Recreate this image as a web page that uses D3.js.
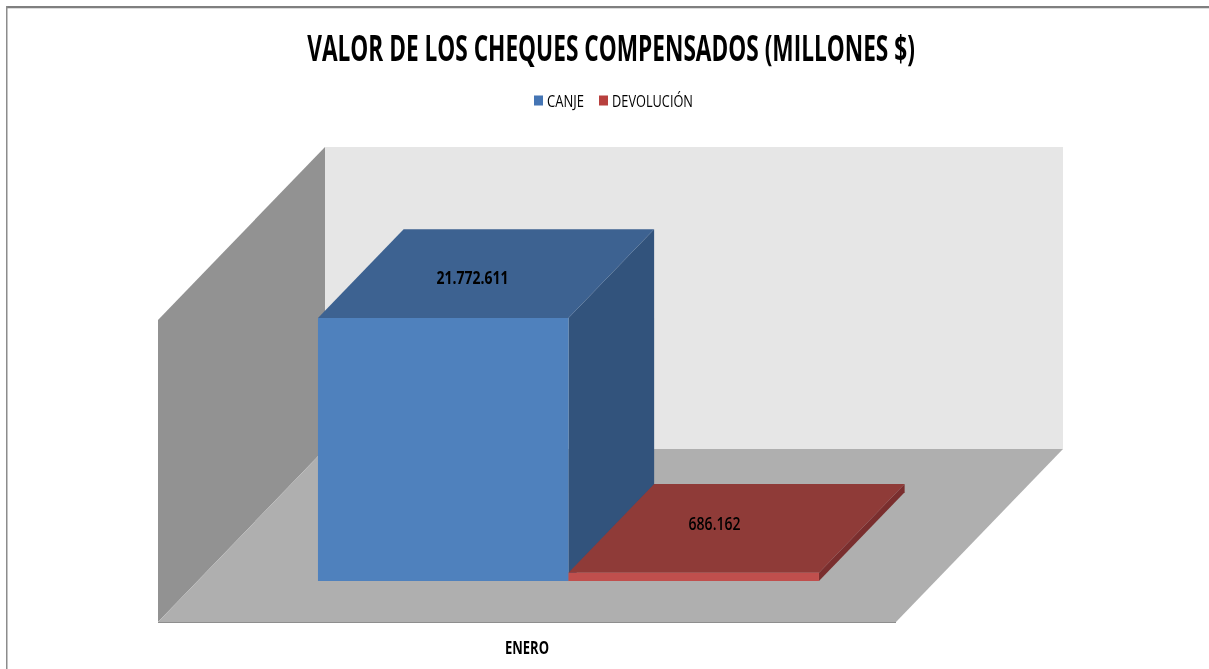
<!DOCTYPE html>
<html>
<head>
<meta charset="utf-8">
<script src="https://cdn.jsdelivr.net/npm/d3@7"></script>
<style>
html,body{margin:0;padding:0;background:#fff;overflow:hidden}
svg{display:block}
text{font-family:"Open Sans","Liberation Sans",sans-serif;fill:#000}
</style>
</head>
<body>
<svg id="c" width="1209" height="669"></svg>
<script>
const categories = ["ENERO"];
const seriesNames = ["CANJE", "DEVOLUCIÓN"];
const seriesValues = [21772611, 686162];
const valueLabels = ["21.772.611", "686.162"];
const titleText = "VALOR DE LOS CHEQUES COMPENSADOS (MILLONES $)";
const frontColors = ["#4f81bd", "#c0504d"];
const topColors = ["#3d6291", "#8f3a39"];
const sideColors = ["#31527b", "#7a2f2e"];
const legendColors = ["#4575b4", "#b8403e"];

const svg = d3.select("#c");
const W = 1209, H = 669;

const defs = svg.append("defs");
defs.append("filter").attr("id","soft").attr("filterUnits","userSpaceOnUse")
  .attr("x",0).attr("y",0).attr("width",W).attr("height",H)
  .append("feGaussianBlur").attr("stdDeviation",0.5);
defs.append("filter").attr("id","edge").append("feGaussianBlur").attr("stdDeviation",0.4);

// frame
svg.append("rect").attr("x",6).attr("y",6).attr("width",W).attr("height",2).attr("fill","#7f7f7f");
svg.append("rect").attr("x",6).attr("y",8).attr("width",W).attr("height",1).attr("fill","#dcdcdc");
svg.append("rect").attr("x",6).attr("y",6).attr("width",1.5).attr("height",H).attr("fill","#8c8c8c");

// oblique projection built from scales
const x = d3.scaleBand().domain(seriesNames).range([158,896]).paddingInner(0).paddingOuter(0.473).align(0.508);
const y = d3.scaleLinear().domain([0,25000000]).range([622,320]);
const depthX = d3.scaleLinear().domain([0,1]).range([0,167]);
const depthY = d3.scaleLinear().domain([0,1]).range([0,-173]);
const P = (px,v,d) => [px + depthX(d), y(v) + depthY(d)];
const poly = (pts,fill,g=svg) => g.append("polygon").attr("points",pts.map(p=>p.join(",")).join(" ")).attr("fill",fill);

const xL = x.range()[0], xR = x.range()[1], vMax = y.domain()[1];
const chart = svg.append("g").attr("filter","url(#edge)");
poly([P(xL,vMax,0),P(xL,vMax,1),P(xL,0,1),P(xL,0,0)],"#929292",chart);
poly([P(xL,vMax,1),P(xR,vMax,1),P(xR,0,1),P(xL,0,1)],"#e6e6e6",chart);
poly([P(xL,0,0),P(xR,0,0),P(xR,0,1),P(xL,0,1)],"#afafaf",chart);
chart.append("line").attr("x1",xL).attr("x2",xR).attr("y1",y(0)+0.5).attr("y2",y(0)+0.5).attr("stroke","#8e8e8e").attr("stroke-width",1);

// text layer: each string is condensed horizontally to the reference's width
const textLayer = svg.append("g").attr("filter","url(#soft)");
function fitText(str, cx, base, size, weight, width, fill){
  const t = textLayer.append("text").attr("text-anchor","middle")
    .attr("font-size",size).attr("font-weight",weight).attr("fill",fill||"#000").text(str);
  const k = width / t.node().getComputedTextLength();
  t.attr("transform",`translate(${cx},${base}) scale(${k},1)`);
  return t;
}

const d0 = 0.237, d1 = 0.75;
const labelShift = [[-13.5,3.5],[-22,-5]];
seriesNames.forEach((s,i)=>{
  const a = x(s), b = a + x.bandwidth(), v = seriesValues[i];
  poly([P(b,0,d0),P(b,0,d1),P(b,v,d1),P(b,v,d0)],sideColors[i],chart);
  poly([P(a,v,d0),P(b,v,d0),P(b,v,d1),P(a,v,d1)],topColors[i],chart);
  poly([P(a,0,d0),P(b,0,d0),P(b,v,d0),P(a,v,d0)],frontColors[i],chart);
  const c = P((a+b)/2,v,(d0+d1)/2);
  fitText(valueLabels[i], c[0]+labelShift[i][0], c[1]+labelShift[i][1]+6.5, 18, i?600:700, i?52:72);
});

// title
fitText(titleText, 611, 61, 36, 700, 608);

// legend
const legendX = [534,599], legendTextW = [37,81];
seriesNames.forEach((s,i)=>{
  svg.append("rect").attr("x",legendX[i]).attr("y",95.5).attr("width",9).attr("height",10).attr("fill",legendColors[i]);
  fitText(s, legendX[i]+13+legendTextW[i]/2, 107, 17, 400, legendTextW[i], "#1a1a1a");
});

// category label
fitText(categories[0], 527, 654, 17, 700, 44);
</script>
</body>
</html>
